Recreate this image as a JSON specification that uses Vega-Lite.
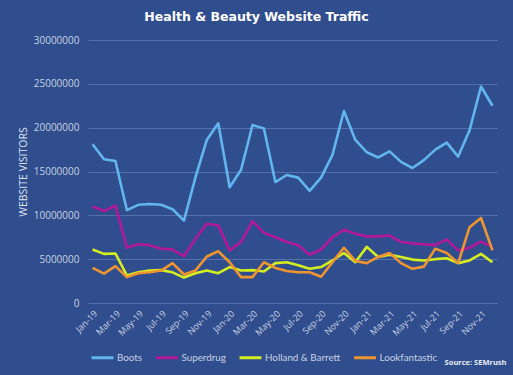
{
  "$schema": "https://vega.github.io/schema/vega-lite/v6.json",
  "autosize": {"type": "none"},
  "width": 409,
  "height": 263,
  "padding": {"left": 88, "top": 40, "right": 16, "bottom": 72},
  "background": "#304e8d",
  "title": {
    "text": "Health & Beauty Website Traffic",
    "anchor": "middle",
    "dx": -36,
    "offset": 12,
    "font": "DejaVu Sans",
    "fontSize": 12.5,
    "fontWeight": "bold",
    "color": "#ffffff"
  },
  "config": {
    "view": {"stroke": null},
    "font": "Open Sans"
  },
  "data": {
    "values": [
      {"month": "Jan-19", "Boots": 18100000, "Superdrug": 11000000, "Holland & Barrett": 6100000, "Lookfantastic": 4000000},
      {"month": "Feb-19", "Boots": 16400000, "Superdrug": 10500000, "Holland & Barrett": 5600000, "Lookfantastic": 3350000},
      {"month": "Mar-19", "Boots": 16200000, "Superdrug": 11100000, "Holland & Barrett": 5650000, "Lookfantastic": 4200000},
      {"month": "Apr-19", "Boots": 10600000, "Superdrug": 6300000, "Holland & Barrett": 3150000, "Lookfantastic": 2950000},
      {"month": "May-19", "Boots": 11200000, "Superdrug": 6700000, "Holland & Barrett": 3500000, "Lookfantastic": 3400000},
      {"month": "Jun-19", "Boots": 11300000, "Superdrug": 6600000, "Holland & Barrett": 3700000, "Lookfantastic": 3500000},
      {"month": "Jul-19", "Boots": 11200000, "Superdrug": 6200000, "Holland & Barrett": 3750000, "Lookfantastic": 3700000},
      {"month": "Aug-19", "Boots": 10700000, "Superdrug": 6100000, "Holland & Barrett": 3500000, "Lookfantastic": 4550000},
      {"month": "Sep-19", "Boots": 9400000, "Superdrug": 5350000, "Holland & Barrett": 2900000, "Lookfantastic": 3250000},
      {"month": "Oct-19", "Boots": 14300000, "Superdrug": 7300000, "Holland & Barrett": 3400000, "Lookfantastic": 3700000},
      {"month": "Nov-19", "Boots": 18600000, "Superdrug": 9050000, "Holland & Barrett": 3700000, "Lookfantastic": 5300000},
      {"month": "Dec-19", "Boots": 20500000, "Superdrug": 8850000, "Holland & Barrett": 3400000, "Lookfantastic": 5900000},
      {"month": "Jan-20", "Boots": 13200000, "Superdrug": 6000000, "Holland & Barrett": 4100000, "Lookfantastic": 4650000},
      {"month": "Feb-20", "Boots": 15200000, "Superdrug": 6950000, "Holland & Barrett": 3700000, "Lookfantastic": 2950000},
      {"month": "Mar-20", "Boots": 20300000, "Superdrug": 9350000, "Holland & Barrett": 3750000, "Lookfantastic": 2950000},
      {"month": "Apr-20", "Boots": 19900000, "Superdrug": 8000000, "Holland & Barrett": 3600000, "Lookfantastic": 4650000},
      {"month": "May-20", "Boots": 13800000, "Superdrug": 7500000, "Holland & Barrett": 4550000, "Lookfantastic": 4000000},
      {"month": "Jun-20", "Boots": 14600000, "Superdrug": 6950000, "Holland & Barrett": 4650000, "Lookfantastic": 3650000},
      {"month": "Jul-20", "Boots": 14300000, "Superdrug": 6600000, "Holland & Barrett": 4300000, "Lookfantastic": 3500000},
      {"month": "Aug-20", "Boots": 12800000, "Superdrug": 5500000, "Holland & Barrett": 3900000, "Lookfantastic": 3500000},
      {"month": "Sep-20", "Boots": 14300000, "Superdrug": 6100000, "Holland & Barrett": 4100000, "Lookfantastic": 3000000},
      {"month": "Oct-20", "Boots": 16900000, "Superdrug": 7500000, "Holland & Barrett": 4850000, "Lookfantastic": 4650000},
      {"month": "Nov-20", "Boots": 21900000, "Superdrug": 8350000, "Holland & Barrett": 5700000, "Lookfantastic": 6300000},
      {"month": "Dec-20", "Boots": 18600000, "Superdrug": 7900000, "Holland & Barrett": 4650000, "Lookfantastic": 4800000},
      {"month": "Jan-21", "Boots": 17200000, "Superdrug": 7600000, "Holland & Barrett": 6400000, "Lookfantastic": 4550000},
      {"month": "Feb-21", "Boots": 16600000, "Superdrug": 7600000, "Holland & Barrett": 5250000, "Lookfantastic": 5250000},
      {"month": "Mar-21", "Boots": 17300000, "Superdrug": 7700000, "Holland & Barrett": 5500000, "Lookfantastic": 5700000},
      {"month": "Apr-21", "Boots": 16100000, "Superdrug": 6950000, "Holland & Barrett": 5250000, "Lookfantastic": 4550000},
      {"month": "May-21", "Boots": 15400000, "Superdrug": 6800000, "Holland & Barrett": 4950000, "Lookfantastic": 3900000},
      {"month": "Jun-21", "Boots": 16300000, "Superdrug": 6700000, "Holland & Barrett": 4850000, "Lookfantastic": 4150000},
      {"month": "Jul-21", "Boots": 17500000, "Superdrug": 6600000, "Holland & Barrett": 5000000, "Lookfantastic": 6200000},
      {"month": "Aug-21", "Boots": 18300000, "Superdrug": 7250000, "Holland & Barrett": 5100000, "Lookfantastic": 5700000},
      {"month": "Sep-21", "Boots": 16700000, "Superdrug": 6000000, "Holland & Barrett": 4550000, "Lookfantastic": 4550000},
      {"month": "Oct-21", "Boots": 19700000, "Superdrug": 6300000, "Holland & Barrett": 4850000, "Lookfantastic": 8650000},
      {"month": "Nov-21", "Boots": 24700000, "Superdrug": 7000000, "Holland & Barrett": 5600000, "Lookfantastic": 9700000},
      {"month": "Dec-21", "Boots": 22500000, "Superdrug": 6400000, "Holland & Barrett": 4650000, "Lookfantastic": 6000000}
    ]
  },
  "transform": [
    {"fold": ["Boots", "Superdrug", "Holland & Barrett", "Lookfantastic"], "as": ["brand", "visitors"]}
  ],
  "mark": {"type": "line", "strokeWidth": 2.6, "strokeJoin": "round"},
  "encoding": {
    "x": {
      "field": "month",
      "type": "ordinal",
      "sort": null,
      "scale": {"type": "point", "padding": 0.4},
      "axis": {
        "values": ["Jan-19","Mar-19","May-19","Jul-19","Sep-19","Nov-19","Jan-20","Mar-20","May-20","Jul-20","Sep-20","Nov-20","Jan-21","Mar-21","May-21","Jul-21","Sep-21","Nov-21"],
        "labelAngle": -45,
        "labelFontSize": 9,
        "labelColor": "#c8d1e3",
        "labelPadding": 6,
        "ticks": false,
        "domain": false,
        "grid": false,
        "title": "Source: SEMrush",
        "titleAnchor": "end",
        "titleAlign": "right",
        "titleX": 418,
        "titleY": 55,
        "titleFontSize": 7.5,
        "titleFontWeight": "bold",
        "titleColor": "#e8edf5"
      }
    },
    "y": {
      "field": "visitors",
      "type": "quantitative",
      "scale": {"domain": [0, 30000000]},
      "axis": {
        "values": [0, 5000000, 10000000, 15000000, 20000000, 25000000, 30000000],
        "format": "d",
        "labelFontSize": 10,
        "labelColor": "#c8d1e3",
        "labelPadding": 9,
        "ticks": false,
        "domain": false,
        "grid": true,
        "gridColor": "#5471ab",
        "gridWidth": 1,
        "title": "WEBSITE VISITORS",
        "titleFontSize": 10.5,
        "titleFontWeight": "normal",
        "titleColor": "#dfe5f0",
        "titlePadding": 5
      }
    },
    "color": {
      "field": "brand",
      "type": "nominal",
      "scale": {
        "domain": ["Boots", "Superdrug", "Holland & Barrett", "Lookfantastic"],
        "range": ["#62b6ee", "#b2189a", "#d5ee1f", "#ef9530"]
      },
      "legend": {
        "orient": "none",
        "direction": "horizontal",
        "legendX": 2,
        "legendY": 305,
        "title": null,
        "symbolType": "stroke",
        "symbolSize": 480,
        "symbolStrokeWidth": 3,
        "labelFont": "Lato",
        "labelFontSize": 9.8,
        "labelColor": "#c8d1e3",
        "labelOffset": 2,
        "columnPadding": 6.5
      }
    }
  }
}
